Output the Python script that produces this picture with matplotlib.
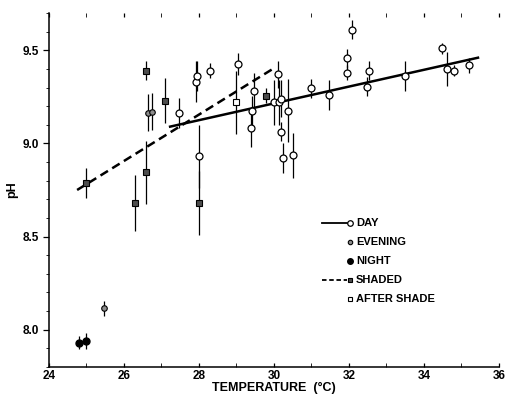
import matplotlib
matplotlib.use("Agg")
import matplotlib.pyplot as plt

plt.rcParams["font.family"] = ["Liberation Sans", "DejaVu Sans"]
plt.rcParams["font.weight"] = "bold"

# data: (temperature degC, pH, half error bar)
day_t = [27.47, 27.91, 27.96, 28.29, 28.01, 29.03, 29.47, 29.42, 29.39, 30.10,
         30.00, 30.13, 30.19, 30.38, 30.19, 30.25, 30.51, 30.99, 31.48, 31.96,
         31.95, 32.07, 32.49, 32.54, 33.49, 34.48, 34.61, 34.79, 35.21]
day_ph = [9.165, 9.33, 9.36, 9.39, 8.93, 9.425, 9.28, 9.175, 9.08, 9.37,
          9.22, 9.22, 9.24, 9.175, 9.063, 8.92, 8.937, 9.295, 9.26, 9.457,
          9.38, 9.61, 9.305, 9.39, 9.36, 9.51, 9.40, 9.39, 9.42]
day_err = [0.08, 0.11, 0.08, 0.04, 0.17, 0.06, 0.10, 0.08, 0.10, 0.07,
           0.12, 0.12, 0.10, 0.17, 0.05, 0.08, 0.12, 0.05, 0.08, 0.05,
           0.04, 0.05, 0.05, 0.05, 0.08, 0.03, 0.09, 0.03, 0.04]

eve_t = [25.47, 26.65, 26.74]
eve_ph = [8.116, 9.165, 9.17]
eve_err = [0.04, 0.10, 0.10]

night_t = [24.80, 25.00]
night_ph = [7.93, 7.94]
night_err = [0.035, 0.045]

shade_t = [25.00, 26.30, 26.58, 26.60, 27.09, 28.01, 29.80]
shade_ph = [8.786, 8.68, 9.39, 8.845, 9.23, 8.68, 9.255]
shade_err = [0.08, 0.15, 0.05, 0.17, 0.12, 0.17, 0.04]

after_t = [28.98]
after_ph = [9.22]
after_err = [0.17]

# fitted lines (end points)
day_fit_t = [27.23, 35.44]
day_fit_ph = [9.09, 9.46]
shade_fit_t = [24.75, 29.97]
shade_fit_ph = [8.75, 9.40]

fig = plt.figure(figsize=(5.14, 3.97), dpi=100)
ax = fig.add_axes([0.0953, 0.0756, 0.8755, 0.8917])

eb = dict(fmt="none", ecolor="black", elinewidth=0.9, capsize=0, zorder=2)
ax.errorbar(day_t, day_ph, yerr=day_err, **eb)
ax.errorbar(eve_t, eve_ph, yerr=eve_err, **eb)
ax.errorbar(night_t, night_ph, yerr=night_err, **eb)
ax.errorbar(shade_t, shade_ph, yerr=shade_err, **eb)
ax.errorbar(after_t, after_ph, yerr=after_err, **eb)

ax.plot(day_fit_t, day_fit_ph, color="black", lw=1.8, zorder=3)
ax.plot(shade_fit_t, shade_fit_ph, color="black", lw=1.8, ls=(0, (3.5, 2)), zorder=3)

day_style = dict(marker="o", ms=5, mfc="white", mec="black", mew=0.9, ls="none")
eve_style = dict(marker="o", ms=4, mfc="0.55", mec="black", mew=0.8, ls="none")
night_style = dict(marker="o", ms=5, mfc="black", mec="black", ls="none")
shade_style = dict(marker="s", ms=3.8, mfc="0.3", mec="black", mew=0.8, ls="none")
after_style = dict(marker="s", ms=3.8, mfc="white", mec="black", mew=0.8, ls="none")

ax.plot(day_t, day_ph, zorder=4, **day_style)
ax.plot(eve_t, eve_ph, zorder=4, **eve_style)
ax.plot(night_t, night_ph, zorder=4, **night_style)
ax.plot(shade_t, shade_ph, zorder=4, **shade_style)
ax.plot(after_t, after_ph, zorder=4, **after_style)

ax.set_xlim(24, 36)
ax.set_ylim(7.8, 9.7)
ax.set_xticks(range(24, 37, 2))
ax.set_xticks(range(24, 37), minor=True)
ax.set_yticks([8.0, 8.5, 9.0, 9.5])
ax.set_yticklabels(["8.0", "8.5", "9.0", "9.5"])
ax.set_yticks([7.8 + 0.1 * i for i in range(20)], minor=True)
ax.tick_params(axis="both", labelsize=8.5, width=0.9)
ax.tick_params(axis="x", which="both", direction="in", top=True, length=3, pad=2)
ax.tick_params(axis="y", which="major", direction="out", length=4)
ax.tick_params(axis="y", which="minor", direction="out", length=2)
for s in ("top", "right"):
    ax.spines[s].set_visible(False)
for s in ("left", "bottom"):
    ax.spines[s].set_linewidth(1.1)

ax.set_xlabel("TEMPERATURE  (°C)", fontsize=9, fontweight="bold", labelpad=0)
ax.set_ylabel("pH", fontsize=9, fontweight="bold", labelpad=3)

# legend drawn by hand so markers sit at the end of the line samples
rows = [("DAY", day_style, "-"), ("EVENING", eve_style, None),
        ("NIGHT", night_style, None), ("SHADED", shade_style, (0, (2.5, 1.5))),
        ("AFTER SHADE", after_style, None)]
y0, dy = 0.407, 0.0535
for i, (lab, st, ls) in enumerate(rows):
    y = y0 - i * dy
    if ls is not None:
        ax.plot([0.606, 0.662], [y, y], transform=ax.transAxes, color="black",
                lw=1.3, ls=ls, clip_on=False)
    st2 = dict(st)
    st2["ms"] = st["ms"] * 0.8
    ax.plot([0.670], [y], transform=ax.transAxes, clip_on=False, **st2)
    ax.text(0.682, y, lab, transform=ax.transAxes, fontsize=8, fontweight="bold",
            va="center", ha="left")

fig.savefig("out.png", dpi=100)
